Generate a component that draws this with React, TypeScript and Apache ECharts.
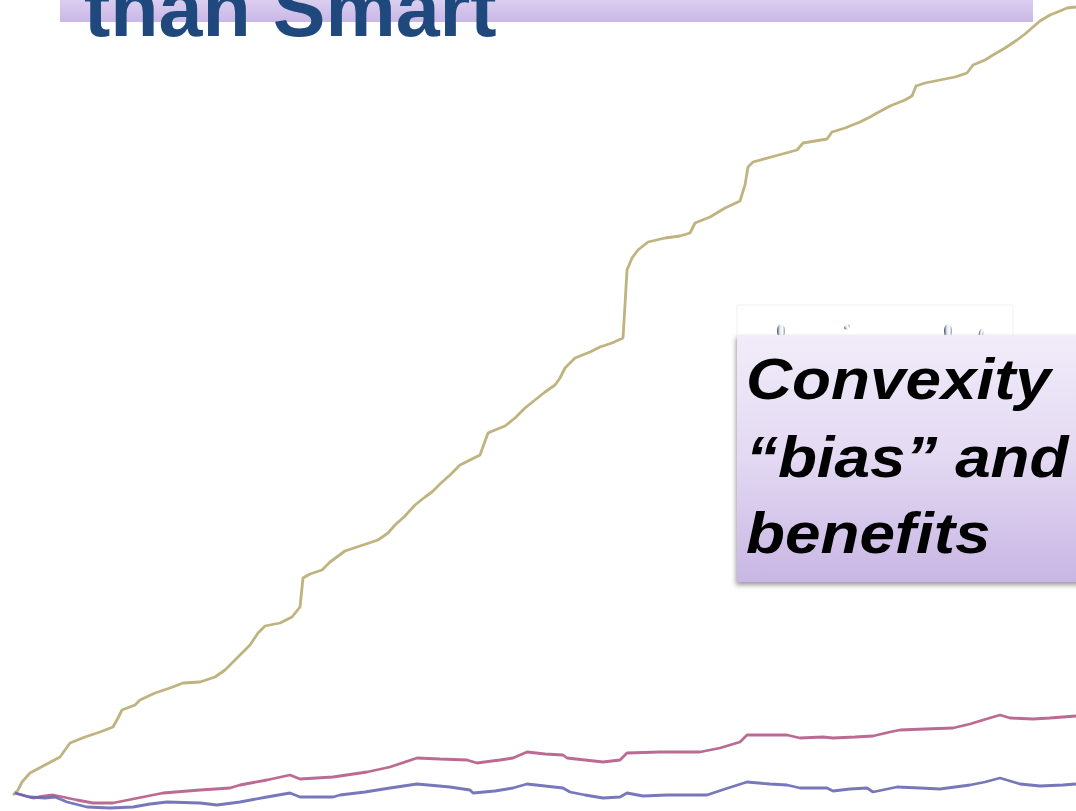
import React, { useEffect, useRef } from "react";
import * as echarts from "echarts";

// Cumulative paths (t, value)
const tanPath: [number, number][] = [
  [13,795],[18,790],[22,782],[30,773],[45,765],[60,757],[65,750],[70,743],[85,737],[100,732],[113,727],[118,718],[122,710],[135,705],[140,700],[155,693],[170,688],[183,683],[200,682],[215,677],[225,670],[232,663],[240,655],[250,645],[258,633],[265,626],[280,623],[292,617],[300,607],[303,578],[310,574],[322,570],[330,562],[345,551],[360,546],[378,540],[388,533],[395,525],[405,516],[415,505],[425,497],[432,492],[440,484],[450,475],[460,465],[470,460],[480,455],[488,433],[495,430],[505,426],[515,418],[525,408],[535,400],[545,392],[555,385],[560,378],[565,368],[575,358],[590,352],[600,347],[612,343],[623,338],[625,305],[627,270],[632,258],[638,250],[648,242],[665,238],[680,236],[690,233],[695,223],[710,217],[725,208],[740,201],[745,185],[748,167],[753,162],[775,156],[797,150],[803,143],[815,141],[827,139],[832,132],[845,128],[860,122],[870,117],[877,113],[890,106],[905,100],[912,96],[916,86],[925,83],[940,80],[955,77],[967,73],[973,65],[985,60],[993,55],[1005,48],[1017,40],[1025,34],[1033,27],[1040,21],[1050,15],[1060,11],[1067,8],[1076,7]
];
const pinkPath: [number, number][] = [
  [15,793],[25,796],[33,798],[45,796],[53,795],[63,797],[77,800],[93,803],[113,803],[133,799],[163,793],[200,790],[230,788],[240,785],[267,780],[290,775],[300,779],[333,777],[367,772],[390,767],[417,758],[440,759],[467,760],[477,763],[500,760],[513,758],[527,752],[545,754],[563,755],[567,758],[585,760],[603,762],[620,760],[627,753],[660,752],[700,752],[720,748],[740,742],[747,735],[770,735],[787,735],[800,738],[823,737],[833,738],[855,737],[873,736],[890,732],[900,730],[925,729],[953,728],[970,724],[983,720],[1000,715],[1010,718],[1033,719],[1050,718],[1063,717],[1076,716]
];
const bluePath: [number, number][] = [
  [15,793],[30,797],[45,798],[55,797],[67,802],[87,807],[110,808],[133,807],[150,804],[167,802],[200,803],[217,805],[240,802],[267,797],[290,793],[300,797],[333,797],[340,795],[365,792],[390,788],[417,784],[450,787],[470,790],[473,793],[495,791],[513,788],[527,784],[545,786],[563,788],[570,792],[585,795],[603,798],[620,797],[627,793],[643,796],[667,795],[707,795],[725,789],[747,782],[770,784],[787,785],[800,788],[827,788],[833,791],[850,789],[867,788],[873,792],[897,787],[920,788],[940,789],[970,785],[985,782],[1000,778],[1020,784],[1040,786],[1063,785],[1076,784]
];

const titleText = "than Smart";
const noteLines = ["Convexity", "\u201Cbias\u201D and", "benefits"];

const H = 811;
const toVal = (p: [number, number][]) => p.map(([x, y]) => [x, H - y]);

export default function App() {
  const ref = useRef<HTMLDivElement>(null);
  useEffect(() => {
    if (!ref.current) return;
    const chart = echarts.init(ref.current, undefined, { renderer: "svg" });
    const lineSeries = (name: string, data: [number, number][], color: string) => ({
      type: "line",
      name,
      data: toVal(data),
      showSymbol: false,
      symbol: "none",
      smooth: false,
      lineStyle: { color, width: 2.8, opacity: 0.9 },
      z: 2,
    });
    const drop = (cx: number, cy: number, rx: number, ry: number, rot = 0) => ({
      type: "ellipse",
      shape: { cx: 0, cy: 0, rx, ry },
      x: cx,
      y: cy,
      rotation: rot,
      z: 20,
      style: {
        fill: {
          type: "linear", x: 0, y: 0, x2: 1, y2: 0,
          colorStops: [
            { offset: 0, color: "#3d4a5c" },
            { offset: 0.35, color: "#dfe8f2" },
            { offset: 0.7, color: "#ffffff" },
            { offset: 1, color: "#8a96a6" },
          ],
        },
      },
    });
    chart.setOption({
      animation: false,
      grid: { left: 0, right: 0, top: 0, bottom: 0 },
      xAxis: { type: "value", min: 0, max: 1076, show: false },
      yAxis: { type: "value", min: 0, max: H, show: false },
      series: [
        lineSeries("Convex", tanPath, "#B8AB72"),
        lineSeries("Mid", pinkPath, "#B45A86"),
        lineSeries("Linear", bluePath, "#6868B4"),
      ],
      graphic: [
        {
          type: "rect",
          shape: { x: 60, y: -2, width: 973, height: 24 },
          z: 10,
          style: {
            fill: {
              type: "linear", x: 0, y: 0, x2: 0, y2: 1,
              colorStops: [
                { offset: 0, color: "#DCD0F0" },
                { offset: 1, color: "#C9B7E6" },
              ],
            },
          },
        },
        {
          type: "text",
          x: 84,
          y: 8,
          z: 11,
          style: {
            text: titleText,
            font: 'bold 79px "Liberation Sans", Arial, sans-serif',
            fill: "#1F497D",
            verticalAlign: "middle",
            align: "left",
          },
        },
        {
          type: "rect",
          shape: { x: 737, y: 305, width: 276, height: 40 },
          z: 15,
          style: { fill: "#ffffff", stroke: "#f0f0f0", lineWidth: 1 },
        },
        drop(781, 331, 4, 7),
        drop(847, 327, 3, 2.2, 0.5),
        drop(948, 331, 4, 7),
        drop(981, 334, 2.2, 5, -0.2),
        {
          type: "rect",
          shape: { x: 737, y: 335, width: 345, height: 247 },
          z: 30,
          style: {
            fill: {
              type: "linear", x: 0, y: 0, x2: 0, y2: 1,
              colorStops: [
                { offset: 0, color: "#F1ECF9" },
                { offset: 0.5, color: "#E3D9F2" },
                { offset: 1, color: "#C8B6E4" },
              ],
            },
            shadowBlur: 5,
            shadowOffsetX: -1,
            shadowOffsetY: 3,
            shadowColor: "rgba(0,0,0,0.4)",
          },
        },
        ...noteLines.map((t, i) => ({
          type: "text",
          x: 746,
          y: [379, 457, 533][i],
          scaleX: 1.1,
          z: 31,
          style: {
            text: t,
            font: 'italic bold 58px "Liberation Sans", Arial, sans-serif',
            fill: "#000000",
            verticalAlign: "middle",
            align: "left",
          },
        })),
      ],
    });
    return () => chart.dispose();
  }, []);
  return (
    <div
      ref={ref}
      style={{ position: "absolute", left: 0, top: 0, width: 1076, height: 811, background: "#ffffff" }}
    />
  );
}
